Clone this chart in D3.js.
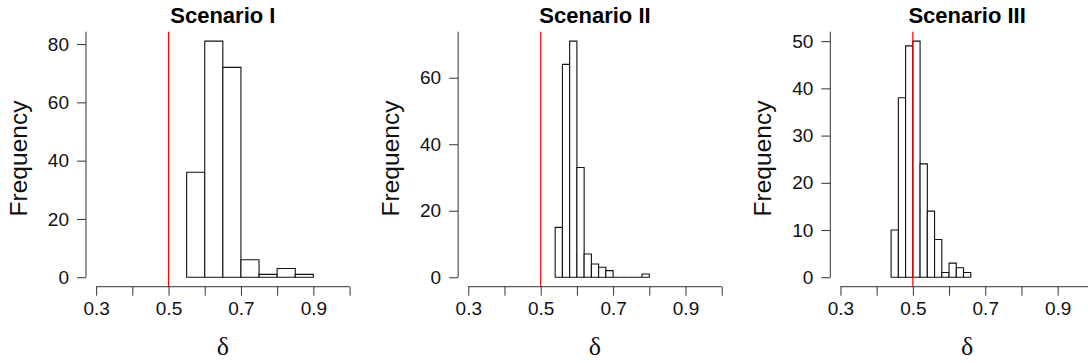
<!DOCTYPE html>
<html>
<head>
<meta charset="utf-8">
<script src="https://cdn.jsdelivr.net/npm/d3@7"></script>
<style>
  body { margin: 0; background: #fff; }
  svg { display: block; }
</style>
</head>
<body>
<div id="chart"></div>
<script>
// histogram counts (200 replicates each)
const titles = ["Scenario I", "Scenario II", "Scenario III"];
const binStarts = [0.55, 0.54, 0.44];
const binWidths = [0.05, 0.02, 0.02];
const countsI = [36, 81, 72, 6, 1, 3, 1];
const countsII = [15, 64, 71, 33, 7, 4, 3, 2, 0, 0, 0, 0, 1];
const countsIII = [10, 38, 49, 50, 24, 14, 8, 1, 3, 2, 1];
const yTicks = [[0, 20, 40, 60, 80], [0, 20, 40, 60], [0, 10, 20, 30, 40, 50]];
const xTicks = [0.3, 0.4, 0.5, 0.6, 0.7, 0.8, 0.9, 1.0];
const xLabels = [0.3, 0.5, 0.7, 0.9];
const trueDelta = 0.5;

const allCounts = [countsI, countsII, countsIII];

const W = 1088, H = 363;
const svg = d3.select("#chart").append("svg")
  .attr("width", W)
  .attr("height", H);

const panelStep = 372.15;
const plot = { left: 86, top: 31.7, bottom: 286.7, width: 273.7 };
const sans = "Liberation Sans, Arial, Helvetica, sans-serif";

allCounts.forEach(function (counts, i) {
  const g = svg.append("g")
    .attr("transform", "translate(" + (i * panelStep) + ",0)");

  const bins = counts.map(function (c, j) {
    const x0 = binStarts[i] + j * binWidths[i];
    return { x0: x0, x1: x0 + binWidths[i], count: c };
  });

  // R-style 4% padding on both axes
  const xmin = 0.3, xmax = 1.0;
  const xpad = (xmax - xmin) * 0.04;
  const x = d3.scaleLinear()
    .domain([xmin - xpad, xmax + xpad])
    .range([plot.left, plot.left + plot.width]);

  const ymax = d3.max(counts);
  const y = d3.scaleLinear()
    .domain([-ymax * 0.04, ymax * 1.04])
    .range([plot.bottom, plot.top]);

  // bars (drawn as paths so empty bins still leave a flat line)
  g.append("g")
    .selectAll("path")
    .data(bins)
    .join("path")
    .attr("d", function (d) {
      const x0 = x(d.x0), x1 = x(d.x1), y0 = y(0), y1 = y(d.count);
      return "M" + x0 + "," + y0 + "V" + y1 + "H" + x1 + "V" + y0 + "Z";
    })
    .attr("fill", "white")
    .attr("stroke", "#111")
    .attr("stroke-width", 1.1);

  // true value
  g.append("line")
    .attr("x1", x(trueDelta)).attr("x2", x(trueDelta))
    .attr("y1", plot.top).attr("y2", plot.bottom)
    .attr("stroke", "#ff0000")
    .attr("stroke-width", 1.2);

  // x axis
  const xAxis = g.append("g")
    .attr("transform", "translate(0," + plot.bottom + ")")
    .call(d3.axisBottom(x)
      .tickValues(xTicks)
      .tickSize(9)
      .tickPadding(6)
      .tickFormat(d => xLabels.some(v => Math.abs(v - d) < 1e-9) ? d3.format(".1f")(d) : ""));
  xAxis.select(".domain").remove();
  xAxis.append("line")
    .attr("x1", x(xmin)).attr("x2", x(xmax))
    .attr("stroke", "#333");
  xAxis.selectAll(".tick line").attr("stroke", "#333");
  xAxis.selectAll("text")
    .attr("font-family", sans)
    .attr("font-size", 19)
    .attr("fill", "#111");

  // y axis
  const yAxis = g.append("g")
    .attr("transform", "translate(" + plot.left + ",0)")
    .call(d3.axisLeft(y)
      .tickValues(yTicks[i])
      .tickSize(9)
      .tickPadding(8));
  yAxis.select(".domain").remove();
  yAxis.append("line")
    .attr("y1", y(0)).attr("y2", plot.top)
    .attr("stroke", "#333");
  yAxis.selectAll(".tick line").attr("stroke", "#333");
  yAxis.selectAll("text")
    .attr("font-family", sans)
    .attr("font-size", 19)
    .attr("fill", "#111");

  // title
  g.append("text")
    .attr("x", plot.left + plot.width / 2)
    .attr("y", 23)
    .attr("text-anchor", "middle")
    .attr("font-family", sans)
    .attr("font-weight", "bold")
    .attr("font-size", 22)
    .attr("fill", "#000")
    .text(titles[i]);

  // axis titles
  g.append("text")
    .attr("transform", "translate(27," + 158.5 + ") rotate(-90)")
    .attr("text-anchor", "middle")
    .attr("font-family", sans)
    .attr("font-size", 24.5)
    .attr("fill", "#111")
    .text("Frequency");

  g.append("text")
    .attr("x", plot.left + plot.width / 2)
    .attr("y", 355)
    .attr("text-anchor", "middle")
    .attr("font-family", "Liberation Serif, Times New Roman, serif")
    .attr("font-size", 26)
    .attr("fill", "#111")
    .text("δ");
});
</script>
</body>
</html>
